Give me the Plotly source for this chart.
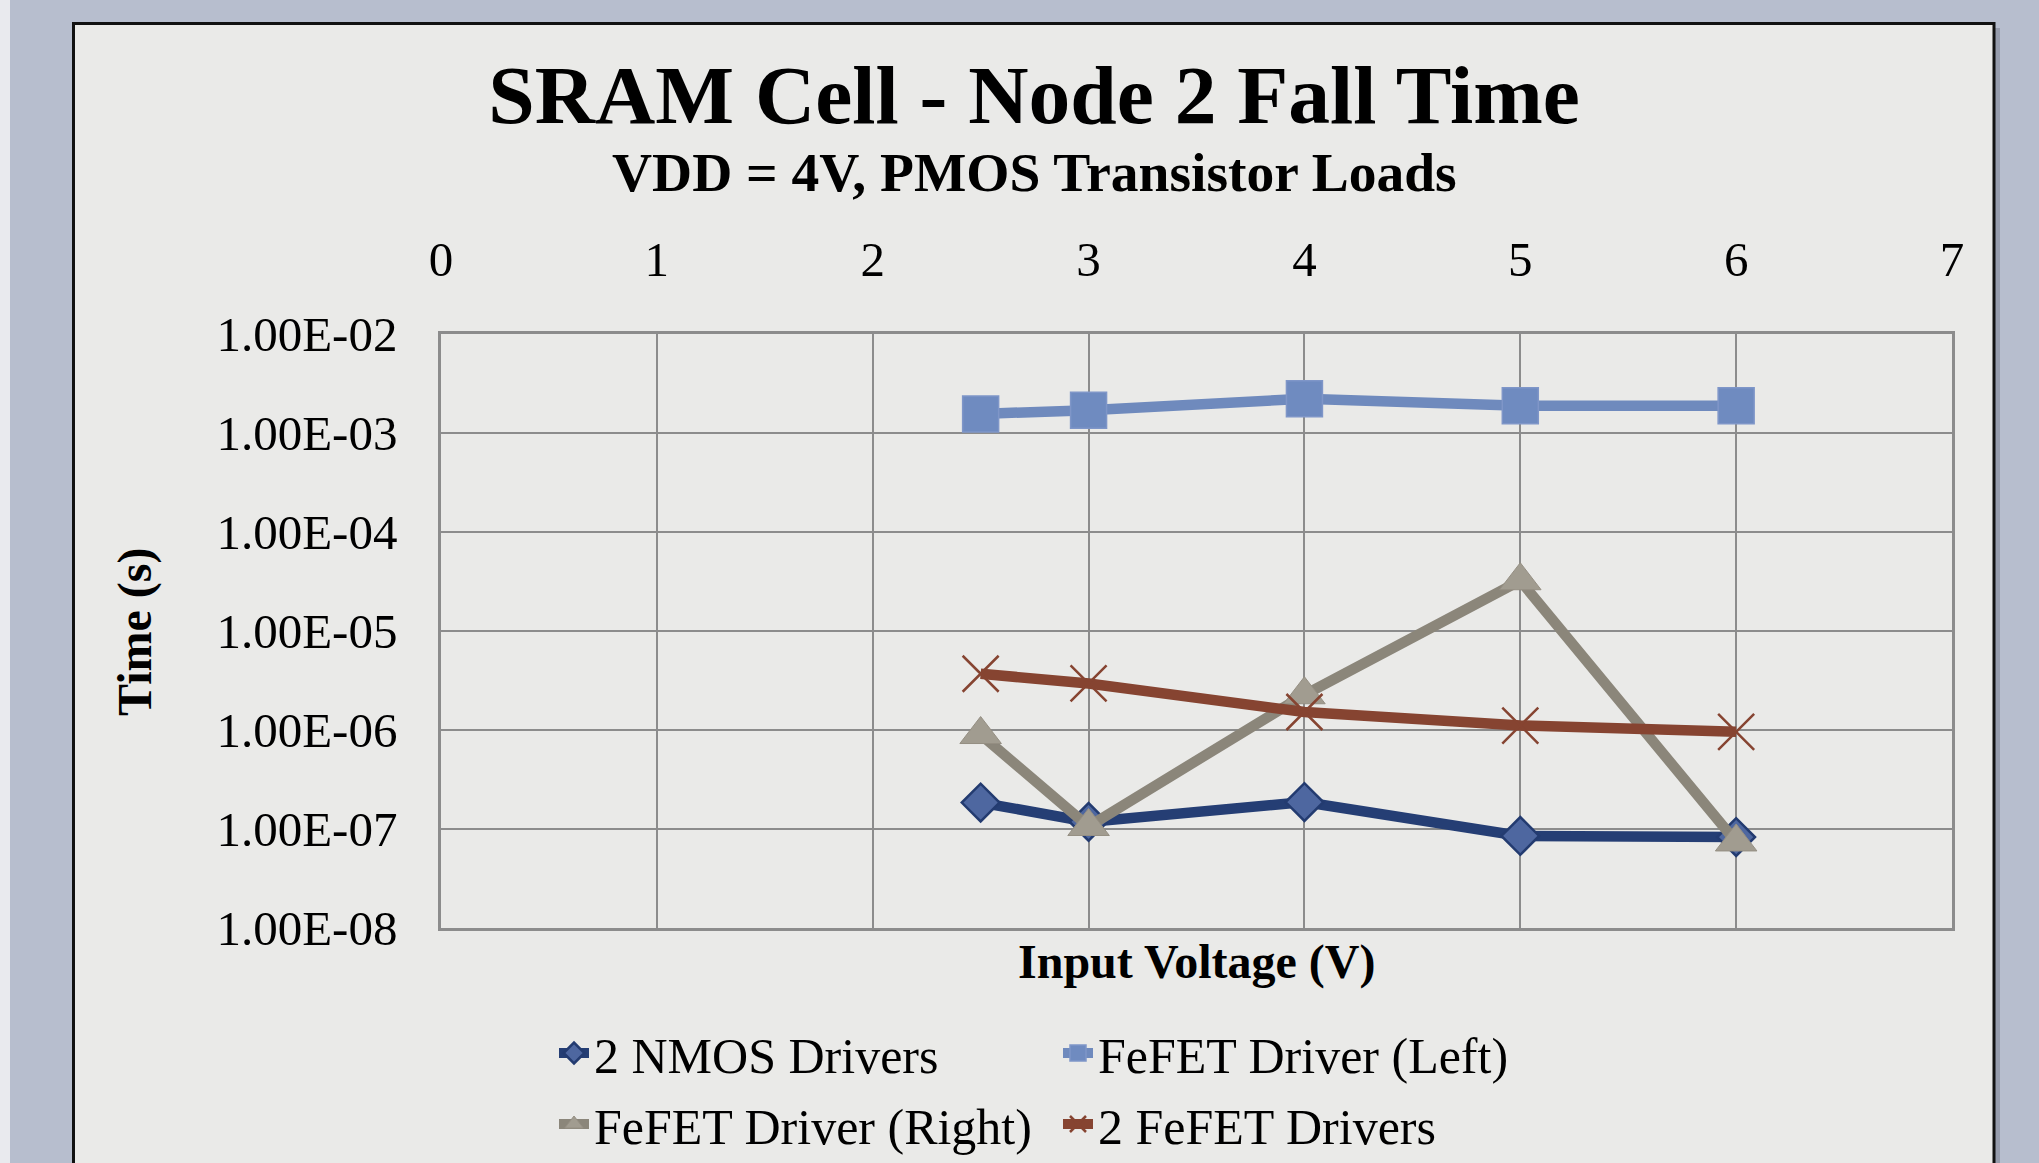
import plotly.graph_objects as go

# ---------------- data ----------------
input_voltage = [2.5, 3, 4, 5, 6]
nmos_drivers = [1.85e-7, 1.18e-7, 1.87e-7, 8.5e-8, 8.3e-8]
fefet_left = [1.56e-3, 1.70e-3, 2.22e-3, 1.89e-3, 1.89e-3]
fefet_right = [9.0e-7, 1.06e-7, 2.27e-6, 3.22e-5, 7.4e-8]
two_fefet = [3.7e-6, 2.95e-6, 1.52e-6, 1.11e-6, 9.6e-7]

series_names = ["2 NMOS Drivers", "FeFET Driver (Left)", "FeFET Driver (Right)", "2 FeFET Drivers"]
x_ticks = [0, 1, 2, 3, 4, 5, 6, 7]
y_tickvals = [1e-8, 1e-7, 1e-6, 1e-5, 1e-4, 1e-3, 1e-2]
y_ticktext = ["1.00E-08", "1.00E-07", "1.00E-06", "1.00E-05", "1.00E-04", "1.00E-03", "1.00E-02"]

title_text = "SRAM Cell - Node 2 Fall Time"
subtitle_text = "VDD = 4V, PMOS Transistor Loads"
x_title = "Input Voltage (V)"
y_title = "Time (s)"

# ---------------- layout geometry ----------------
W, H = 2039, 1163
L, R, T, B = 441, 1952, 334, 928
PW, PH = R - L, B - T

def px(x):
    return (x - L) / PW

def py(y):
    return (B - y) / PH

FONT = "Liberation Serif, Times New Roman, serif"

fig = go.Figure()

fig.add_trace(go.Scatter(
    x=input_voltage, y=nmos_drivers, name=series_names[0], mode="lines+markers",
    line=dict(color="#253e74", width=10.5),
    marker=dict(symbol="diamond", size=29, color="#4e67a0", line=dict(color="#233b70", width=2.5)),
    legend="legend",
))
fig.add_trace(go.Scatter(
    x=input_voltage, y=fefet_left, name=series_names[1], mode="lines+markers",
    line=dict(color="#6f8abd", width=10.5),
    marker=dict(symbol="square", size=36, color="#6f8bc0", line=dict(color="#7f96c8", width=1.5)),
    legend="legend",
))
fig.add_trace(go.Scatter(
    x=input_voltage, y=fefet_right, name=series_names[2], mode="lines+markers",
    line=dict(color="#8b867a", width=10.5),
    marker=dict(symbol="triangle-up", size=36, color="#a19c90", line=dict(color="#958f83", width=1)),
    legend="legend2",
))
fig.add_trace(go.Scatter(
    x=input_voltage, y=two_fefet, name=series_names[3], mode="lines+markers",
    line=dict(color="#864431", width=10.5),
    marker=dict(symbol="x-thin-open", size=36, color="#864431", line=dict(color="#864431", width=2.5)),
    legend="legend2",
))

# frame shapes
shapes = [
    # light strip at far left
    dict(type="rect", xref="paper", yref="paper", x0=px(0), x1=px(10), y0=py(H + 5), y1=py(-5),
         fillcolor="#e9eaee", line=dict(width=0), layer="below"),
    # shadow
    dict(type="rect", xref="paper", yref="paper", x0=px(78), x1=px(2000), y0=py(H + 20), y1=py(28),
         fillcolor="rgba(90,95,110,0.35)", line=dict(width=0), layer="below"),
    # frame
    dict(type="rect", xref="paper", yref="paper", x0=px(73.5), x1=px(1994), y0=py(H + 20), y1=py(23.5),
         fillcolor="#eaeae8", line=dict(color="#111111", width=3), layer="below"),
]

annotations = [
    dict(text="<b>" + subtitle_text + "</b>", xref="paper", yref="paper", x=px(1034), y=py(172.5),
         xanchor="center", yanchor="middle", showarrow=False, font=dict(family=FONT, size=55.5, color="black")),
    dict(text="<b>" + x_title + "</b>", xref="paper", yref="paper", x=0.5, y=py(962),
         xanchor="center", yanchor="middle", showarrow=False, font=dict(family=FONT, size=48, color="black")),
    dict(text="<b>" + y_title + "</b>", xref="paper", yref="paper", x=px(135), y=py(632),
         xanchor="center", yanchor="middle", textangle=-90, showarrow=False,
         font=dict(family=FONT, size=48, color="black")),
]

fig.update_layout(
    width=W, height=H,
    margin=dict(l=L, r=W - R, t=T, b=H - B, autoexpand=False),
    paper_bgcolor="#b7bece",
    plot_bgcolor="rgba(0,0,0,0)",
    font=dict(family=FONT, color="black"),
    title=dict(text="<b>" + title_text + "</b>", x=1034 / W, xref="container", xanchor="center",
               y=1 - 94 / H, yref="container", yanchor="middle",
               font=dict(family=FONT, size=83.5, color="black")),
    shapes=shapes,
    annotations=annotations,
    showlegend=True,
    legend=dict(orientation="h", xref="container", yref="container", x=554 / W, y=1 - 1053 / H,
                xanchor="left", yanchor="middle", entrywidth=459, entrywidthmode="pixels",
                bgcolor="rgba(0,0,0,0)", font=dict(family=FONT, size=50, color="black"),
                itemsizing="trace"),
    legend2=dict(orientation="h", xref="container", yref="container", x=554 / W, y=1 - 1124 / H,
                 xanchor="left", yanchor="middle", entrywidth=459, entrywidthmode="pixels",
                 bgcolor="rgba(0,0,0,0)", font=dict(family=FONT, size=50, color="black"),
                 itemsizing="trace"),
)

fig.update_xaxes(
    side="top", range=[0, 7], tickvals=x_ticks, ticktext=[str(v) for v in x_ticks],
    showgrid=True, gridcolor="#8c8c8c", gridwidth=2,
    showline=True, mirror=True, linecolor="#8c8c8c", linewidth=2.5,
    ticks="outside", ticklen=36, tickcolor="rgba(0,0,0,0)",
    tickfont=dict(family=FONT, size=49, color="black"), zeroline=False, fixedrange=True,
)
fig.update_yaxes(
    type="log", range=[-8, -2], tickvals=y_tickvals, ticktext=y_ticktext,
    showgrid=True, gridcolor="#8c8c8c", gridwidth=2,
    showline=True, mirror=True, linecolor="#8c8c8c", linewidth=2.5,
    ticks="outside", ticklen=31, tickcolor="rgba(0,0,0,0)",
    tickfont=dict(family=FONT, size=49, color="black"), zeroline=False, fixedrange=True,
)

fig.write_html(
    "out.html",
    config={"displayModeBar": False},
    post_script="document.body.style.margin='0px';document.body.style.overflow='hidden';",
)
